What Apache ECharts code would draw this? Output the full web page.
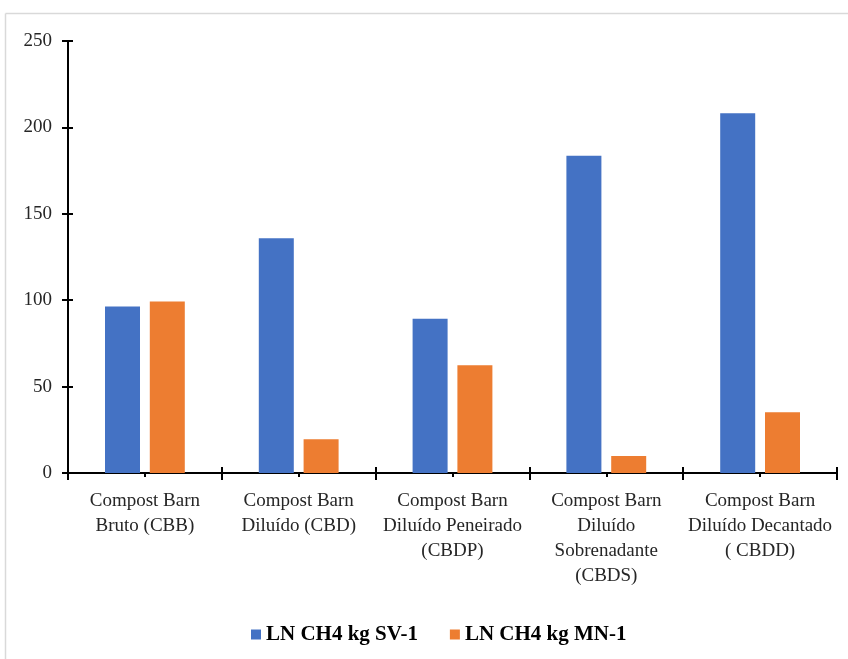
<!DOCTYPE html>
<html>
<head>
<meta charset="utf-8">
<script src="https://cdn.jsdelivr.net/npm/echarts@6/dist/echarts.min.js"></script>
<style>
html,body{margin:0;padding:0;background:#fff;}
#c{width:848px;height:659px;}
</style>
</head>
<body>
<div id="c"></div>
<script>
const categories = [
  'Compost Barn\nBruto (CBB)',
  'Compost Barn\nDiluído (CBD)',
  'Compost Barn\nDiluído Peneirado\n(CBDP)',
  'Compost Barn\nDiluído\nSobrenadante\n(CBDS)',
  'Compost Barn\nDiluído Decantado\n( CBDD)'
];
const seriesNames = ['LN CH4 kg SV-1', 'LN CH4 kg MN-1'];
const svValues = [96.3, 135.8, 89.3, 183.6, 208.2];
const mnValues = [99.2, 19.6, 62.3, 9.8, 35.1];

const font = 'Liberation Serif';
const chart = echarts.init(document.getElementById('c'));
chart.setOption({
  animation: false,
  backgroundColor: '#fff',
  graphic: [
    {type:'line', shape:{x1:5.5,y1:13.5,x2:848,y2:13.5}, style:{stroke:'#d9d9d9',lineWidth:1.5}, silent:true},
    {type:'line', shape:{x1:5.5,y1:13.5,x2:5.5,y2:659}, style:{stroke:'#d9d9d9',lineWidth:1.5}, silent:true}
  ],
  grid: {left: 68, right: 11, top: 41, bottom: 186, containLabel: false},
  legend: {
    data: seriesNames,
    left: 246, top: 619,
    icon: 'rect', itemWidth: 10, itemHeight: 10, itemGap: 32, itemStyle: {borderWidth: 0},
    textStyle: {fontFamily: font, fontWeight: 'bold', fontSize: 21, color: '#000'}
  },
  xAxis: [
    {
      type: 'category', data: categories,
      axisLine: {lineStyle: {color: '#000', width: 2}},
      axisTick: {show: true, alignWithLabel: false, length: 7, lineStyle: {color: '#000', width: 2}},
      axisLabel: {interval: 0, fontFamily: font, fontSize: 19, color: '#262626', lineHeight: 25, margin: 16}
    },
    {
      type: 'category', data: categories, position: 'bottom', offset: 0,
      axisLine: {show: false},
      axisTick: {show: true, alignWithLabel: true, length: 4, lineStyle: {color: '#000', width: 2}},
      axisLabel: {show: false}
    },
    {
      type: 'category', data: categories, position: 'bottom', offset: 0,
      axisLine: {show: false},
      axisTick: {show: true, inside: true, alignWithLabel: false, length: 6, lineStyle: {color: '#000', width: 2}},
      axisLabel: {show: false}
    }
  ],
  yAxis: [
    {
      type: 'value', min: 0, max: 250, interval: 50,
      axisLine: {show: true, lineStyle: {color: '#000', width: 2}},
      axisTick: {show: true, length: 6, lineStyle: {color: '#000', width: 2}},
      splitLine: {show: false},
      axisLabel: {fontFamily: font, fontSize: 19, color: '#262626', margin: 16}
    },
    {
      type: 'value', min: 0, max: 250, interval: 50, position: 'left',
      axisLine: {show: false},
      axisTick: {show: true, inside: true, length: 5, lineStyle: {color: '#000', width: 2}},
      splitLine: {show: false},
      axisLabel: {show: false}
    }
  ],
  series: [
    {name: seriesNames[0], type: 'bar', data: svValues, xAxisIndex: 0, yAxisIndex: 0,
     barWidth: 35, barGap: '28%', itemStyle: {color: '#4472C4'}},
    {name: seriesNames[1], type: 'bar', data: mnValues, xAxisIndex: 0, yAxisIndex: 0,
     barWidth: 35, barGap: '28%', itemStyle: {color: '#ED7D31'}}
  ]
});
</script>
</body>
</html>
